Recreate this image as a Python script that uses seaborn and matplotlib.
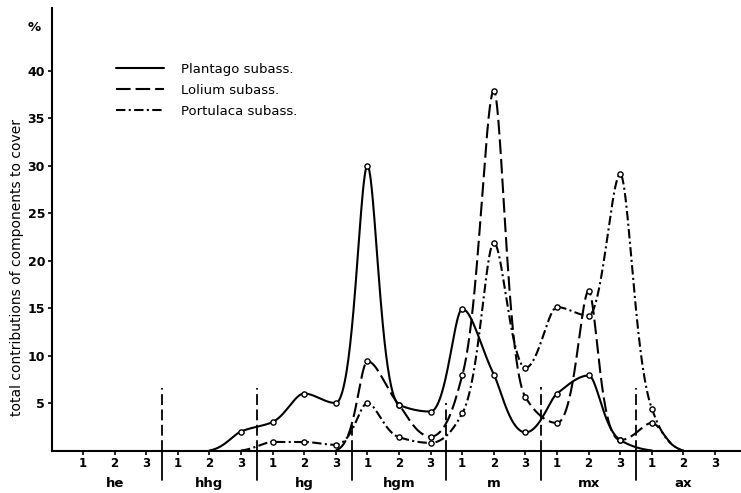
import numpy as np
import pandas as pd
import matplotlib
matplotlib.use("Agg")
import matplotlib.pyplot as plt
import seaborn as sns

# groups along the x axis, each with sub-positions 1, 2, 3
groups = ["he", "hhg", "hg", "hgm", "m", "mx", "ax"]
subs = ["1", "2", "3"]

# values, one per position (he1 ... ax3); None = no curve
plantago = [None, None, None, None, 0.0, 2.0, 3.0, 6.0, 5.0, 30.0, 4.8, 4.1,
            14.9, 8.0, 1.9, 6.0, 7.9, 1.1, 0.0, None, None]
lolium = [None, None, None, None, None, None, None, None, 0.0, 9.4, 4.8, 1.45,
          7.9, 37.9, 5.6, 2.9, 16.8, 1.1, 2.9, 0.0, None]
portulaca = [None, None, None, None, None, 0.0, 0.9, 0.9, 0.6, 5.0, 1.4, 0.8,
             3.9, 21.9, 8.7, 15.1, 14.2, 29.1, 4.4, 0.0, None]

series = {
    "Plantago subass.": (plantago, "-"),
    "Lolium subass.": (lolium, (0, (7, 2.4))),
    "Portulaca subass.": (portulaca, (0, (4.5, 1.6, 1.0, 1.6))),
}

# vertical group dividers: how far above the axis the dashed part reaches
divider_tops = [6.6, 6.6, 3.0, 5.0, 6.7, 6.6]


def pchip(x, y, xs):
    # monotone cubic hermite, just to draw the hand-drawn smooth curves
    x = np.asarray(x, float)
    y = np.asarray(y, float)
    h = np.diff(x)
    d = np.diff(y) / h
    m = np.zeros_like(y)
    for k in range(1, len(y) - 1):
        if d[k - 1] * d[k] > 0:
            w1 = 2 * h[k] + h[k - 1]
            w2 = h[k] + 2 * h[k - 1]
            m[k] = (w1 + w2) / (w1 / d[k - 1] + w2 / d[k])
    m[0] = d[0] * 0.5
    m[-1] = d[-1] * 0.5
    idx = np.clip(np.searchsorted(x, xs) - 1, 0, len(x) - 2)
    t = (xs - x[idx]) / h[idx]
    h00 = 2 * t**3 - 3 * t**2 + 1
    h10 = t**3 - 2 * t**2 + t
    h01 = -2 * t**3 + 3 * t**2
    h11 = t**3 - t**2
    return (h00 * y[idx] + h10 * h[idx] * m[idx]
            + h01 * y[idx + 1] + h11 * h[idx] * m[idx + 1])


def smooth(x, y, xs):
    # interpolate in log space so the peaks come out narrow like the drawing
    return np.expm1(pchip(x, np.log1p(y), xs))


sns.set_style("ticks")
plt.rcParams["font.family"] = ["DejaVu Sans"]
plt.rcParams["text.color"] = "black"
plt.rcParams["xtick.labelcolor"] = "black"
plt.rcParams["ytick.labelcolor"] = "black"

fig = plt.figure(figsize=(7.41, 4.93), dpi=100)
ax = fig.add_axes([52 / 741, 42.5 / 493, 689 / 741, 442.5 / 493])

positions = np.arange(len(groups) * len(subs))

for label, (vals, ls) in series.items():
    df = pd.DataFrame({"pos": positions, "val": vals}).dropna()
    xs = np.linspace(df["pos"].min(), df["pos"].max(), 800)
    ys = np.clip(smooth(df["pos"].values, df["val"].values, xs), 0, None)
    sns.lineplot(x=xs, y=ys, ax=ax, color="black", lw=1.5, linestyle=ls,
                 label=label, sort=False)
    pts = df[df["val"] > 0]
    ax.scatter(pts["pos"], pts["val"], s=14, facecolor="white",
               edgecolor="black", linewidth=1.0, zorder=5)

# group dividers
for k, top in enumerate(divider_tops):
    xd = 2.5 + 3 * k
    ax.plot([xd, xd], [0, top], color="black", lw=1.3,
            linestyle=(0, (6, 2.5)), clip_on=False)
    ax.plot([xd, xd], [0, -3.1], color="black", lw=1.3, clip_on=False)

ax.set_xlim(-0.98, 20.82)
ax.set_ylim(0, 46.6)

ax.set_xticks(positions)
ax.set_xticklabels(subs * len(groups), fontsize=8.5, fontweight="bold")
ax.set_yticks([5, 10, 15, 20, 25, 30, 35, 40])
ax.set_yticklabels(["5", "10", "15", "20", "25", "30", "35", "40"],
                   fontsize=9, fontweight="bold")
ax.tick_params(axis="both", direction="out", length=3, width=1.2, pad=2,
               color="black")

for side in ["top", "right"]:
    ax.spines[side].set_visible(False)
for side in ["left", "bottom"]:
    ax.spines[side].set_linewidth(1.5)
    ax.spines[side].set_color("black")

for k, g in enumerate(groups):
    ax.text(1 + 3 * k, -3.5, g, ha="center", va="center", fontsize=9.5,
            fontweight="bold", transform=ax.transData, clip_on=False)

ax.text(-1.55, 44.5, "%", ha="center", va="center", fontsize=9.5,
        fontweight="bold", clip_on=False)

fig.text(17 / 741, 1 - 268 / 493, "total contributions of components to cover",
         rotation=90, ha="center", va="center", fontsize=10)

ax.legend(loc="upper left", bbox_to_anchor=(116 / 741, 1 - 63 / 493),
          bbox_transform=fig.transFigure, frameon=False, fontsize=9.5,
          handlelength=3.6, handletextpad=1.3, labelspacing=0.6,
          borderpad=0, borderaxespad=0)

fig.savefig("out.png", dpi=100)
